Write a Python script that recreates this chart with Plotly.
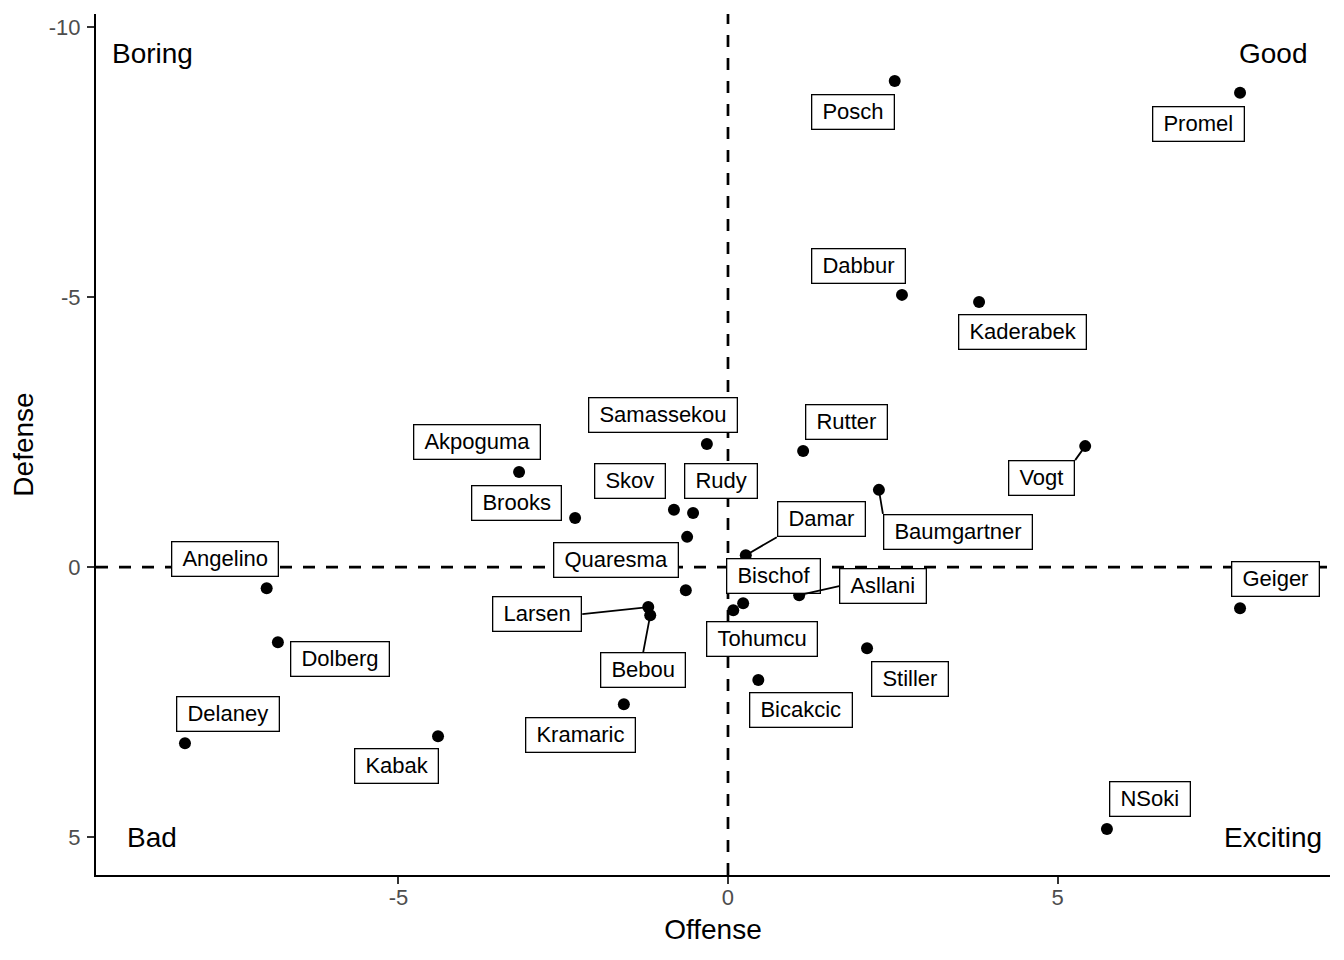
import plotly.graph_objects as go

# ---- data ----
players = ["Posch", "Promel", "Dabbur", "Kaderabek", "Samassekou", "Rutter",
           "Akpoguma", "Vogt", "Skov", "Rudy", "Brooks", "Damar", "Baumgartner",
           "Angelino", "Quaresma", "", "Bischof", "Asllani", "Geiger", "Larsen",
           "Dolberg", "Tohumcu", "Bebou", "Stiller", "Bicakcic", "Delaney",
           "Kramaric", "Kabak", "NSoki"]
offense = [2.53, 7.77, 2.64, 3.81, -0.32, 1.14,
           -3.17, 5.42, -0.82, -0.53, -2.32, 0.27, 2.29,
           -7.00, -0.62, -0.64, 0.23, 1.08, 7.77, -1.21,
           -6.83, 0.08, -1.18, 2.11, 0.46, -8.24,
           -1.58, -4.40, 5.75]
defense = [-9.00, -8.78, -5.04, -4.91, -2.28, -2.15,
           -1.76, -2.24, -1.06, -1.00, -0.91, -0.22, -1.43,
           0.39, -0.56, 0.43, 0.67, 0.52, 0.76, 0.74,
           1.39, 0.80, 0.89, 1.50, 2.09, 3.26,
           2.54, 3.13, 4.85]

quadrant_text = ["Boring", "Good", "Bad", "Exciting"]
quadrant_x = [-8.74, 8.27, -8.74, 8.27]
quadrant_y = [-9.50, -9.50, 5.00, 5.00]

x_ticks = [-5, 0, 5]
y_ticks = [-10, -5, 0, 5]

# ---- label placement (pixel offsets of the label anchor from its point) ----
# (dx, dy, xanchor, yanchor, draw_segment)
placement = {
    "Posch": (-42, 31, "center", "middle", False),
    "Promel": (-42, 31, "center", "middle", False),
    "Dabbur": (-43, -29, "center", "middle", False),
    "Kaderabek": (43, 30, "center", "middle", False),
    "Samassekou": (-44, -29, "center", "middle", False),
    "Rutter": (43, -29, "center", "middle", False),
    "Akpoguma": (-42, -30, "center", "middle", False),
    "Vogt": (-10, 14, "right", "top", True),
    "Skov": (-44, -29, "center", "middle", False),
    "Rudy": (28, -32, "center", "middle", False),
    "Brooks": (-59, -15, "center", "middle", False),
    "Damar": (31, -18, "left", "bottom", True),
    "Baumgartner": (4, 24, "left", "top", True),
    "Angelino": (-42, -29, "center", "middle", False),
    "Quaresma": (-71, 23, "center", "middle", False),
    "Bischof": (30, -27, "center", "middle", False),
    "Asllani": (40, -9, "left", "middle", True),
    "Geiger": (35, -29, "center", "middle", False),
    "Larsen": (-66, 7, "right", "middle", True),
    "Dolberg": (62, 17, "center", "middle", False),
    "Tohumcu": (29, 29, "center", "middle", False),
    "Bebou": (-7, 37, "center", "top", True),
    "Stiller": (43, 31, "center", "middle", False),
    "Bicakcic": (43, 30, "center", "middle", False),
    "Delaney": (43, -29, "center", "middle", False),
    "Kramaric": (-43, 31, "center", "middle", False),
    "Kabak": (-42, 30, "center", "middle", False),
    "NSoki": (43, -30, "center", "middle", False),
}

FONT = "Liberation Sans, Arial, Helvetica, sans-serif"
NBSP = "\u00a0"

fig = go.Figure()

fig.add_trace(go.Scatter(
    x=offense, y=defense, mode="markers",
    marker=dict(color="black", size=12, line=dict(width=0)),
    hoverinfo="skip", showlegend=False,
))

# dashed reference lines at 0
fig.add_vline(x=0, line=dict(color="black", width=2.7, dash="12px,11px"), layer="below")
fig.add_hline(y=0, line=dict(color="black", width=2.7, dash="12px,11px"), layer="below")

annotations = []
for name, xv, yv in zip(players, offense, defense):
    if not name:
        continue
    dx, dy, xa, ya, seg = placement[name]
    annotations.append(dict(
        x=xv, y=yv, xref="x", yref="y",
        text=NBSP + name + NBSP,
        showarrow=True, ax=dx, ay=dy, axref="pixel", ayref="pixel",
        xanchor=xa, yanchor=ya,
        arrowhead=0, arrowwidth=1.8 if seg else 0.1,
        arrowcolor="black" if seg else "rgba(0,0,0,0)",
        standoff=0, startstandoff=0,
        font=dict(family=FONT, size=22, color="black"),
        bgcolor="white", bordercolor="black", borderwidth=1.3, borderpad=4,
    ))

for t, xv, yv in zip(quadrant_text, quadrant_x, quadrant_y):
    annotations.append(dict(
        x=xv, y=yv, xref="x", yref="y", text=t, showarrow=False,
        xanchor="center", yanchor="middle",
        font=dict(family=FONT, size=28, color="black"),
    ))

fig.update_layout(
    width=1344, height=960,
    paper_bgcolor="white", plot_bgcolor="white",
    margin=dict(l=88, r=22, t=6, b=93),
    showlegend=False,
    annotations=annotations,
    font=dict(family=FONT),
    xaxis=dict(
        range=[-9.59, 9.135], tickvals=x_ticks, ticktext=[str(v) for v in x_ticks],
        showgrid=False, zeroline=False,
        showline=True, linecolor="black", linewidth=2,
        ticks="outside", ticklen=7, tickwidth=1.5, tickcolor="#333333",
        tickfont=dict(family=FONT, size=22, color="#4D4D4D"),
        ticklabelstandoff=-5,
        title=dict(text="Offense", font=dict(family=FONT, size=28, color="black"), standoff=10),
    ),
    yaxis=dict(
        range=[5.70, -10.24], tickvals=y_ticks, ticktext=[str(v) for v in y_ticks],
        showgrid=False, zeroline=False,
        showline=True, linecolor="black", linewidth=2,
        ticks="outside", ticklen=7, tickwidth=1.5, tickcolor="#333333",
        tickfont=dict(family=FONT, size=22, color="#4D4D4D"),
        ticklabelstandoff=2,
        title=dict(text="Defense", font=dict(family=FONT, size=28, color="black"), standoff=7),
    ),
)

fig.write_html("out.html")
